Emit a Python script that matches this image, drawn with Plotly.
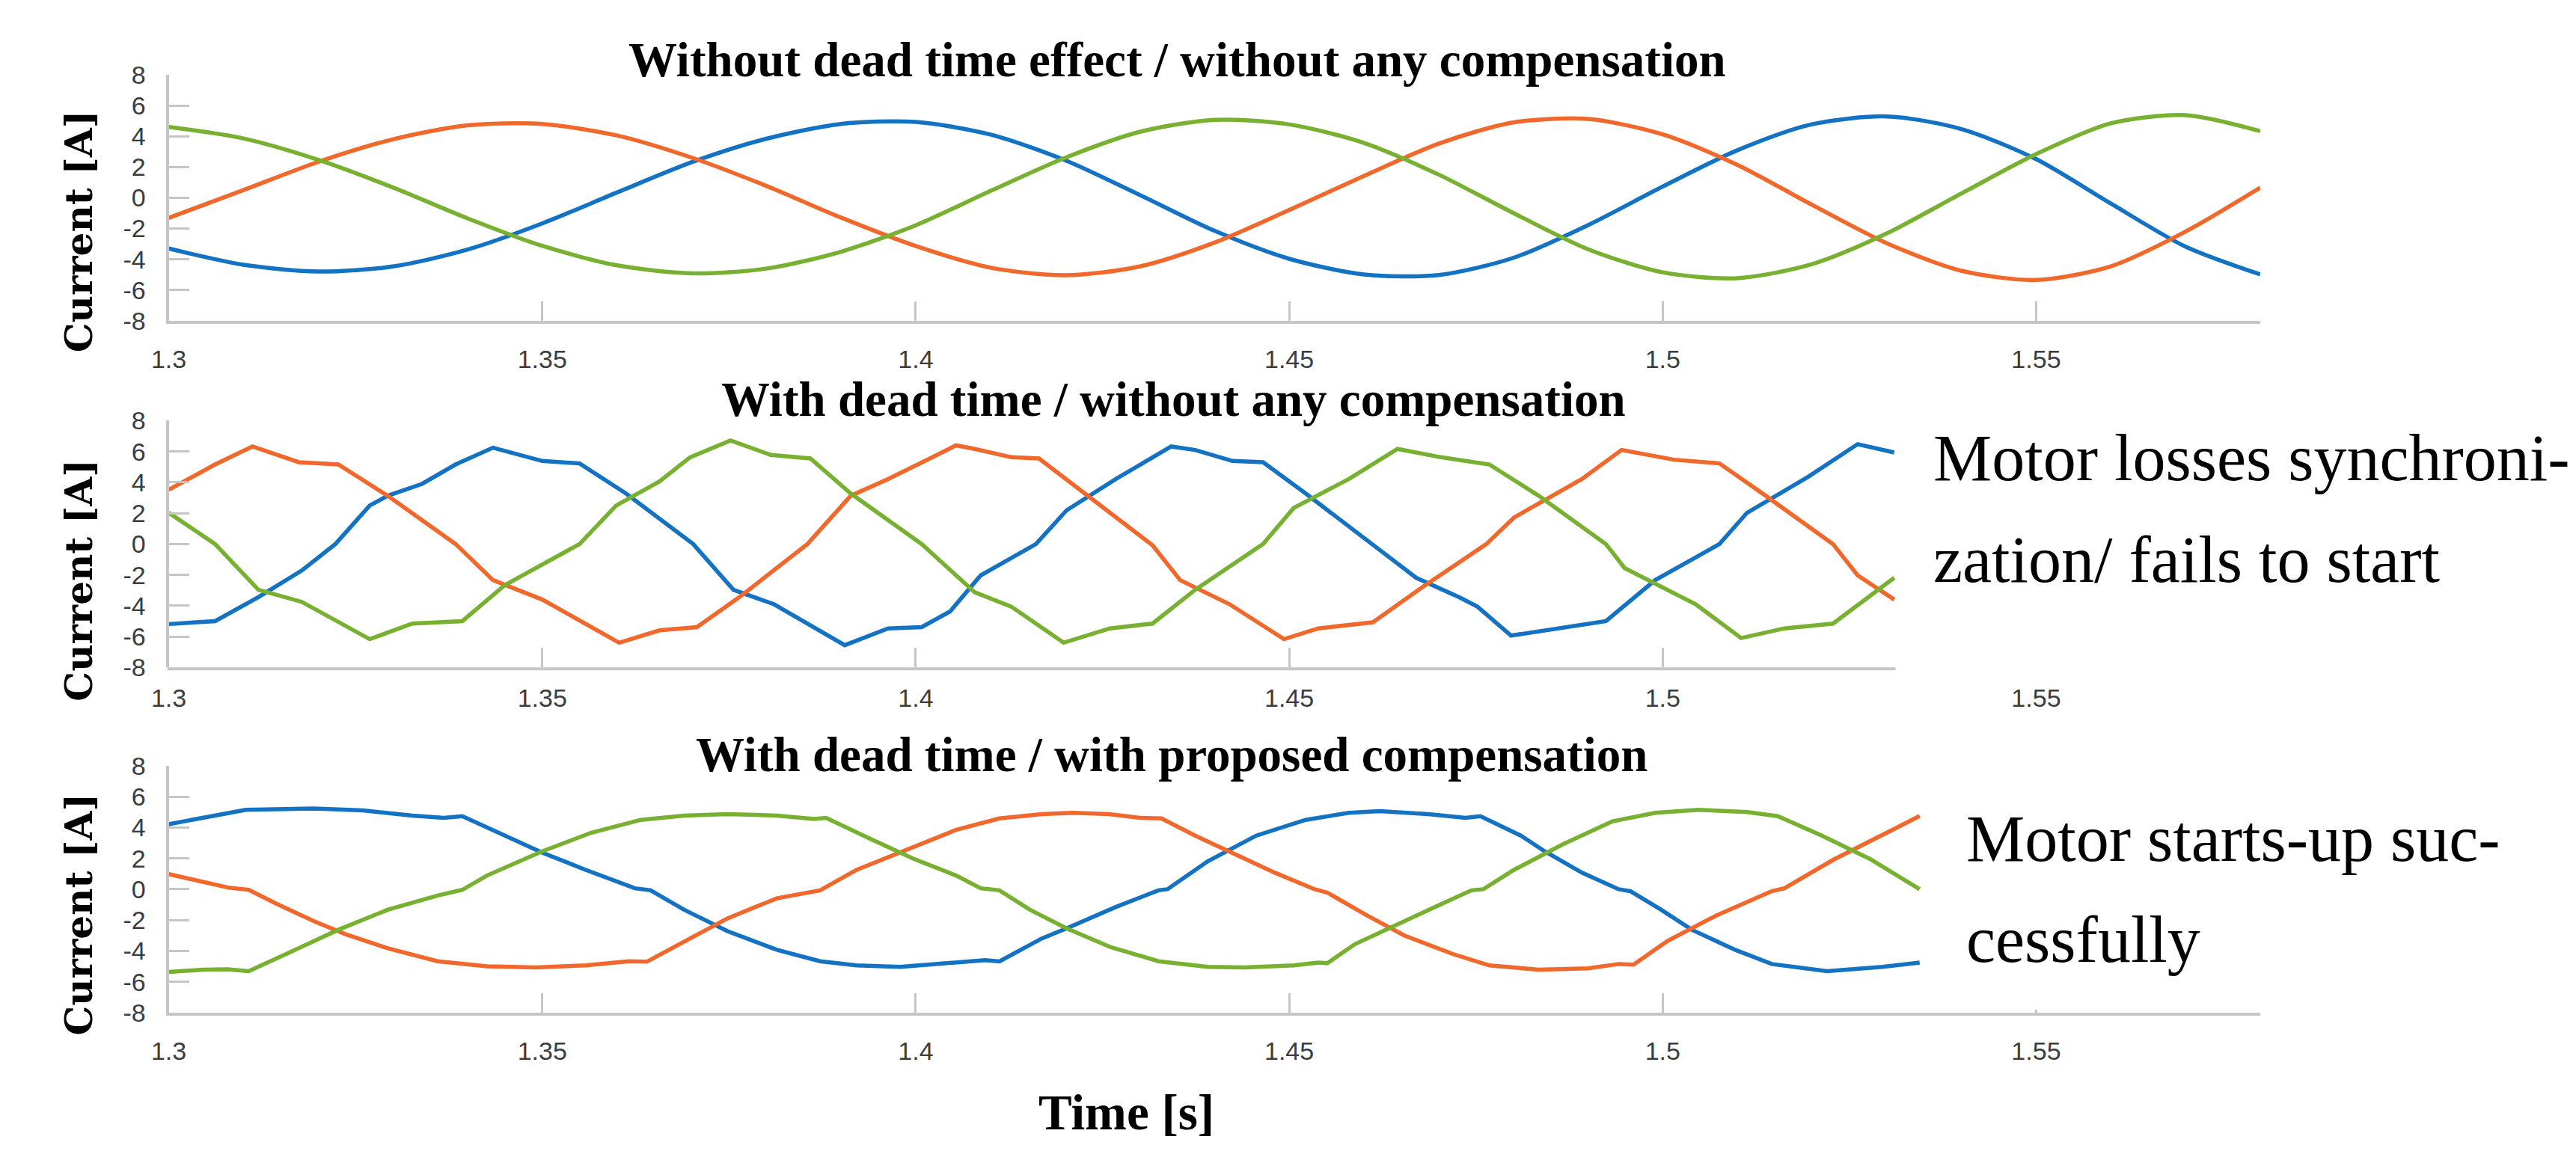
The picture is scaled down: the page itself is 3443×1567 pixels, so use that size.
import plotly.graph_objects as go

# ---------------- data ----------------
# Panel 1: without dead time effect / without any compensation
t1 = [1.30, 1.31, 1.32, 1.33, 1.34, 1.35, 1.36, 1.37, 1.38, 1.39, 1.40, 1.41, 1.42, 1.43, 1.44,
      1.45, 1.46, 1.47, 1.48, 1.49, 1.50, 1.51, 1.52, 1.53, 1.54, 1.55, 1.56, 1.57, 1.58]
blue1 = [-3.30, -4.36, -4.80, -4.47, -3.37, -1.67, 0.34, 2.31, 3.84, 4.80, 4.93, 4.11, 2.44, 0.18, -2.15,
         -3.97, -4.99, -5.03, -3.91, -1.78, 0.73, 3.09, 4.78, 5.29, 4.47, 2.51, -0.38, -3.18, -4.99]
orange1 = [-1.31, 0.50, 2.33, 3.80, 4.71, 4.80, 4.05, 2.61, 0.77, -1.29, -3.14, -4.55, -5.04, -4.47, -2.92,
           -0.80, 1.42, 3.52, 4.90, 5.13, 4.12, 2.14, -0.46, -2.96, -4.75, -5.35, -4.46, -2.20, 0.66]
green1 = [4.61, 3.86, 2.47, 0.67, -1.34, -3.13, -4.40, -4.92, -4.61, -3.51, -1.79, 0.44, 2.60, 4.29, 5.07,
          4.77, 3.57, 1.51, -0.99, -3.35, -4.85, -5.23, -4.32, -2.32, 0.28, 2.84, 4.84, 5.37, 4.33]

# Panel 2: with dead time / without any compensation
t2_blue = [1.3, 1.3062, 1.312, 1.3178, 1.3223, 1.3269, 1.3293, 1.3339, 1.3384, 1.3434, 1.35, 1.355,
           1.3612, 1.3702, 1.3756, 1.381, 1.3905, 1.3963, 1.4008, 1.4046, 1.4087, 1.4161, 1.4202,
           1.4268, 1.4342, 1.4374, 1.4424, 1.4465, 1.4522, 1.4612, 1.467, 1.4727, 1.4752, 1.4797,
           1.4851, 1.4924, 1.499, 1.5076, 1.5113, 1.5195, 1.5261, 1.531]
blue2 = [-5.19, -5.0, -3.44, -1.72, 0.0, 2.5, 3.13, 3.9, 5.16, 6.25, 5.39, 5.23,
         3.28, 0.0, -2.97, -3.9, -6.56, -5.47, -5.39, -4.37, -2.03, 0.0, 2.19,
         4.22, 6.33, 6.1, 5.39, 5.31, 3.28, 0.0, -2.19, -3.44, -4.06, -5.94,
         -5.55, -5.0, -2.34, 0.0, 2.03, 4.37, 6.48, 5.94]
t2_orange = [1.3, 1.3062, 1.3112, 1.3174, 1.3227, 1.3293, 1.3384, 1.3434, 1.35, 1.3603, 1.3657,
             1.3707, 1.3764, 1.3855, 1.3913, 1.3963, 1.4021, 1.4054, 1.4079, 1.4128, 1.4165,
             1.4227, 1.4317, 1.4354, 1.442, 1.4493, 1.4539, 1.4612, 1.4678, 1.4764, 1.4801,
             1.4892, 1.4945, 1.5015, 1.5076, 1.5138, 1.5228, 1.5261, 1.531]
orange2 = [3.52, 5.16, 6.33, 5.31, 5.16, 3.13, 0.0, -2.34, -3.6, -6.4, -5.6,
           -5.39, -3.44, 0.0, 3.13, 4.22, 5.6, 6.4, 6.17, 5.63, 5.55,
           3.28, -0.08, -2.34, -3.9, -6.17, -5.47, -5.08, -2.81, 0.0, 1.72,
           4.22, 6.1, 5.47, 5.23, 3.13, 0.0, -2.03, -3.6]
t2_green = [1.3, 1.3062, 1.312, 1.3178, 1.3269, 1.3326, 1.3393, 1.345, 1.355, 1.3599, 1.3657,
            1.3698, 1.3752, 1.3806, 1.3859, 1.3913, 1.4008, 1.4046, 1.4079, 1.4128, 1.4198,
            1.426, 1.4317, 1.4374, 1.4465, 1.4506, 1.458, 1.4645, 1.4703, 1.4768, 1.4834,
            1.4924, 1.4949, 1.5044, 1.5105, 1.5163, 1.5228, 1.531]
green2 = [2.03, 0.0, -2.97, -3.75, -6.17, -5.16, -5.0, -2.66, 0.0, 2.5, 4.06,
          5.63, 6.72, 5.78, 5.55, 3.28, 0.0, -1.72, -3.13, -4.06, -6.4,
          -5.47, -5.16, -2.97, 0.0, 2.34, 4.22, 6.17, 5.63, 5.16, 3.13,
          0.0, -1.56, -3.9, -6.1, -5.47, -5.16, -2.19]

# Panel 3: with dead time / with proposed compensation
t3_blue = [1.3, 1.3054, 1.3103, 1.3194, 1.326, 1.3326, 1.3368, 1.3393, 1.345, 1.35, 1.3558, 1.3624,
           1.3645, 1.369, 1.3748, 1.3814, 1.3872, 1.3921, 1.3979, 1.4037, 1.4093, 1.4112, 1.4169,
           1.4202, 1.4268, 1.4325, 1.4337, 1.4391, 1.4456, 1.4522, 1.458, 1.4621, 1.4686, 1.4736,
           1.4756, 1.481, 1.4842, 1.4892, 1.4941, 1.4957, 1.4998, 1.5039, 1.5097, 1.5146, 1.522,
           1.5294, 1.5344]
blue3 = [4.22, 4.69, 5.15, 5.24, 5.11, 4.78, 4.63, 4.74, 3.48, 2.37, 1.26, 0.06,
         -0.07, -1.33, -2.72, -3.93, -4.67, -4.94, -5.04, -4.85, -4.6, -4.68, -3.19,
         -2.54, -1.15, -0.07, 0.0, 1.81, 3.48, 4.5, 4.96, 5.06, 4.87, 4.63,
         4.74, 3.48, 2.46, 1.07, 0.0, -0.13, -1.33, -2.63, -3.93, -4.85, -5.31,
         -5.04, -4.76]
t3_orange = [1.3, 1.3045, 1.3079, 1.3107, 1.3145, 1.3194, 1.3236, 1.3293, 1.336, 1.3426, 1.3492,
             1.3558, 1.3616, 1.364, 1.369, 1.3748, 1.3814, 1.3872, 1.3921, 1.3988, 1.4054, 1.4112,
             1.4169, 1.421, 1.4259, 1.43, 1.4329, 1.4374, 1.4424, 1.4481, 1.4534, 1.4551, 1.4604,
             1.4654, 1.4719, 1.4768, 1.4834, 1.49, 1.4941, 1.4961, 1.5006, 1.5072, 1.5146, 1.5163,
             1.5228, 1.5294, 1.5344]
orange3 = [0.98, 0.52, 0.11, -0.04, -0.96, -2.07, -2.91, -3.83, -4.67, -5.0, -5.07,
           -4.94, -4.67, -4.7, -3.37, -1.89, -0.59, -0.07, 1.26, 2.56, 3.85, 4.59,
           4.87, 4.96, 4.87, 4.63, 4.59, 3.48, 2.37, 1.07, 0.0, -0.22, -1.7,
           -3.0, -4.2, -4.94, -5.22, -5.13, -4.85, -4.89, -3.37, -1.7, -0.13, 0.06,
           1.9, 3.55, 4.75]
t3_green = [1.3, 1.3045, 1.3079, 1.3107, 1.3161, 1.3227, 1.3293, 1.336, 1.3393, 1.3426, 1.35,
            1.3566, 1.3632, 1.369, 1.3748, 1.3814, 1.3864, 1.388, 1.3938, 1.3996, 1.4054, 1.4087,
            1.4112, 1.4153, 1.4202, 1.426, 1.4325, 1.4391, 1.444, 1.4506, 1.4539, 1.4551, 1.4588,
            1.4637, 1.4695, 1.4744, 1.476, 1.4801, 1.4867, 1.4933, 1.499, 1.5048, 1.5113, 1.5154,
            1.5212, 1.5278, 1.5344]
green3 = [-5.37, -5.22, -5.19, -5.31, -4.11, -2.63, -1.33, -0.41, -0.04, 0.89, 2.46,
          3.67, 4.5, 4.78, 4.87, 4.78, 4.56, 4.63, 3.3, 2.0, 0.89, 0.06,
          -0.07, -1.33, -2.54, -3.74, -4.67, -5.04, -5.07, -4.94, -4.76, -4.8, -3.56,
          -2.44, -1.15, -0.07, 0.0, 1.26, 2.93, 4.41, 4.96, 5.15, 5.0, 4.74,
          3.5, 1.95, 0.0]

x_tickvals = [1.3, 1.35, 1.4, 1.45, 1.5, 1.55]
x_ticktext = ["1.3", "1.35", "1.4", "1.45", "1.5", "1.55"]
y_tickvals = [-8, -6, -4, -2, 0, 2, 4, 6, 8]
y_ticktext = ["-8", "-6", "-4", "-2", "0", "2", "4", "6", "8"]

titles = ["Without dead time effect / without any compensation",
          "With dead time / without any compensation",
          "With dead time / with proposed compensation"]
y_title = "Current [A]"
x_title = "Time [s]"
note_fail = ["Motor losses synchroni-", "zation/ fails to start"]
note_ok = ["Motor starts-up suc-", "cessfully"]

# ---------------- styling / layout ----------------
W, H = 3443, 1567
BLUE, ORANGE, GREEN = "#1372C2", "#F0682C", "#78B032"
AXC = "#c6c6c6"


def px(p):
    return p / W


def py(p):
    return 1 - p / H


x_dom = [px(203), px(3018)]
y_doms = [[py(420), py(83)], [py(895), py(557)], [py(1368), py(1030)]]

fig = go.Figure()

panels = [
    [(t1, blue1, BLUE), (t1, orange1, ORANGE), (t1, green1, GREEN)],
    [(t2_blue, blue2, BLUE), (t2_orange, orange2, ORANGE), (t2_green, green2, GREEN)],
    [(t3_blue, blue3, BLUE), (t3_orange, orange3, ORANGE), (t3_green, green3, GREEN)],
]
for i, series in enumerate(panels):
    sfx = "" if i == 0 else str(i + 1)
    for tx, vy, col in series:
        fig.add_trace(go.Scatter(
            x=tx, y=vy, mode="lines",
            line=dict(color=col, width=5.5, shape="spline" if i == 0 else "linear", smoothing=0.8),
            xaxis="x" + sfx, yaxis="y" + sfx, hoverinfo="skip"))

tickfont = dict(family="Liberation Sans, Arial, sans-serif", size=34, color="#3c3c3c")
layout_axes = {}
for i in range(3):
    sfx = "" if i == 0 else str(i + 1)
    layout_axes["xaxis" + sfx] = dict(
        domain=x_dom, anchor="y" + sfx, range=[1.3, 1.58],
        tickmode="array", tickvals=x_tickvals, ticktext=x_ticktext,
        ticks="inside", ticklen=26, tickwidth=3, tickcolor=AXC,
        showline=(i != 1), linecolor=AXC, linewidth=4,
        showgrid=False, zeroline=False, tickfont=tickfont, ticklabelstandoff=18,
        fixedrange=True)
    layout_axes["yaxis" + sfx] = dict(
        domain=y_doms[i], anchor="x" + sfx, range=[-8, 8],
        tickmode="array", tickvals=y_tickvals, ticktext=y_ticktext,
        ticks="inside", ticklen=27, tickwidth=3, tickcolor=AXC,
        showline=True, linecolor=AXC, linewidth=4,
        showgrid=False, zeroline=False, tickfont=tickfont, ticklabelstandoff=20,
        fixedrange=True)

shapes = [
    # panel 2: plot area stops early, hide the unused tick
    dict(type="rect", xref="x2", yref="y2", x0=1.5318, x1=1.59, y0=-9, y1=9,
         fillcolor="white", line=dict(width=0), layer="above"),
    # panel 2 shortened time axis line
    dict(type="line", xref="paper", yref="paper", x0=px(201), x1=px(2527),
         y0=py(897), y1=py(897), line=dict(color=AXC, width=4), layer="above"),
    # panel 3: blank area right of the traces
    dict(type="rect", xref="x3", yref="y3", x0=1.5349, x1=1.59, y0=-7.8, y1=9,
         fillcolor="white", line=dict(width=0), layer="above"),
]

title_font = dict(family="Liberation Serif, Times New Roman, serif", size=65, color="black", weight="bold")
note_font = dict(family="Liberation Serif, Times New Roman, serif", size=88, color="black")
ylab_font = dict(family="DejaVu Serif, serif", size=50, color="black", weight="bold")

annotations = []
for txt, xp, yp in zip(titles, [1560, 1555, 1553], [63, 528, 1015]):
    annotations.append(dict(text=txt, x=px(xp), y=py(yp), xref="paper", yref="paper",
                            xanchor="center", yanchor="middle", showarrow=False, font=title_font))
for yp in [297, 775, 1233]:
    annotations.append(dict(text=y_title, x=px(82), y=py(yp), xref="paper", yref="paper",
                            xanchor="center", yanchor="middle", textangle=-90, showarrow=False,
                            font=ylab_font))
annotations.append(dict(text=x_title, x=px(1492), y=py(1504), xref="paper", yref="paper",
                        xanchor="center", yanchor="middle", showarrow=False,
                        font=dict(title_font, size=67)))
for txt, yp in zip(note_fail, [608, 748]):
    annotations.append(dict(text=txt, x=px(2576), y=py(yp), xref="paper", yref="paper",
                            xanchor="left", yanchor="middle", showarrow=False, font=note_font))
for txt, yp in zip(note_ok, [1130, 1268]):
    annotations.append(dict(text=txt, x=px(2620), y=py(yp), xref="paper", yref="paper",
                            xanchor="left", yanchor="middle", showarrow=False, font=note_font))

fig.update_layout(
    width=W, height=H, margin=dict(l=0, r=0, t=0, b=0, pad=0),
    paper_bgcolor="white", plot_bgcolor="white", showlegend=False,
    shapes=shapes, annotations=annotations, **layout_axes)

fig.write_html("out.html", config={"displayModeBar": False},
               post_script="document.body.style.margin='0';document.body.style.overflow='hidden';")
